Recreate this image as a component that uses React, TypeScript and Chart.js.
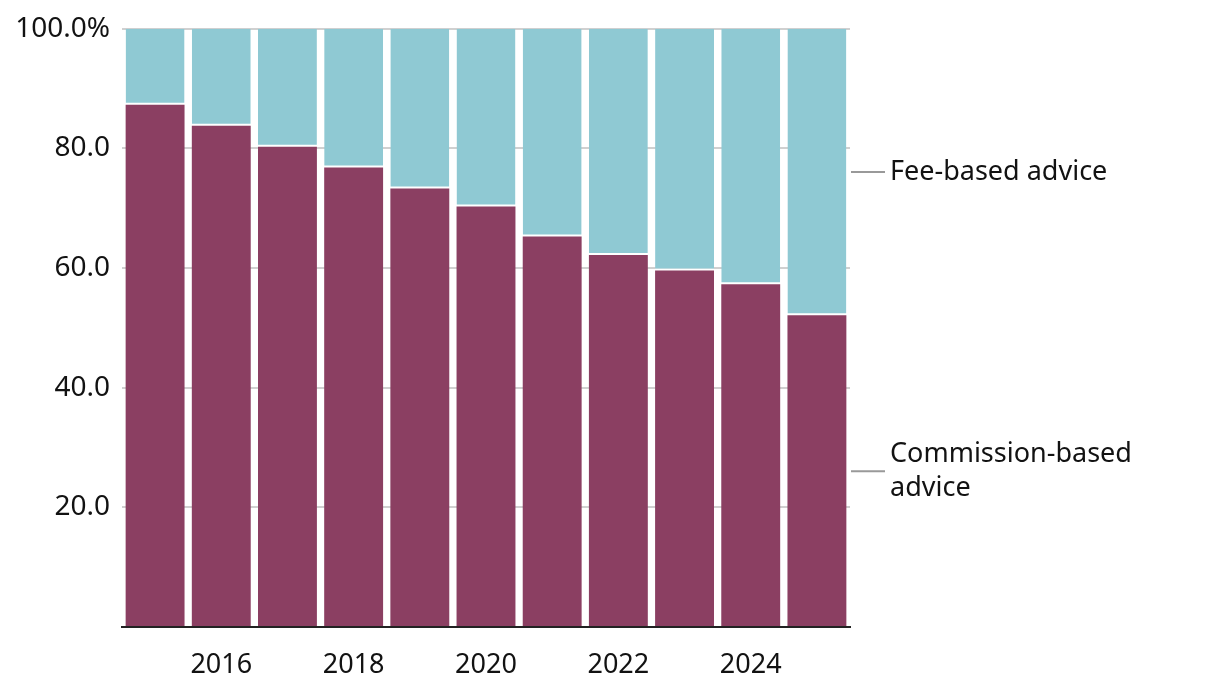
import React, { useEffect, useRef } from "react";
import { Chart, registerables } from "chart.js";

Chart.register(...registerables);

const years = ["2015", "2016", "2017", "2018", "2019", "2020", "2021", "2022", "2023", "2024", "2025"];
const commissionValues = [87.3, 83.8, 80.3, 76.8, 73.3, 70.3, 65.3, 62.2, 59.6, 57.3, 52.1];
const feeValues = [12.7, 16.2, 19.7, 23.2, 26.7, 29.7, 34.7, 37.8, 40.4, 42.7, 47.9];
const commissionLabelLines = ["Commission-based", "advice"];
const feeLabelLines = ["Fee-based advice"];
const yTicks = [0, 20, 40, 60, 80, 100];

const FONT = "'Noto Sans', sans-serif";
const COMMISSION_COLOR = "#8b3f62";
const FEE_COLOR = "#8fc9d3";

const sideLabels = {
  id: "sideLabels",
  afterDraw(chart: any) {
    const { ctx, chartArea } = chart;
    const y = chart.scales.y;
    const last = years.length - 1;
    const c = commissionValues[last];
    const f = feeValues[last];
    const groups = [
      { mid: c / 2, lines: commissionLabelLines },
      { mid: c + f / 2, lines: feeLabelLines },
    ];
    ctx.save();
    groups.forEach((g) => {
      const py = y.getPixelForValue(g.mid);
      ctx.strokeStyle = "#999";
      ctx.lineWidth = 2;
      ctx.beginPath();
      ctx.moveTo(chartArea.right + 1, py);
      ctx.lineTo(chartArea.right + 35, py);
      ctx.stroke();
      ctx.fillStyle = "#121212";
      ctx.font = `27px ${FONT}`;
      ctx.textAlign = "left";
      ctx.textBaseline = "middle";
      const lh = 34;
      const start = py - ((g.lines.length - 1) * lh) / 2;
      g.lines.forEach((t, i) => ctx.fillText(t, chartArea.right + 40, start + i * lh));
    });
    ctx.restore();
  },
};

export default function App() {
  const ref = useRef<HTMLCanvasElement>(null);
  useEffect(() => {
    document.body.style.margin = "0";
    const chart = new Chart(ref.current!, {
      type: "bar",
      data: {
        labels: years,
        datasets: [
          {
            label: "Commission-based advice",
            data: commissionValues,
            backgroundColor: COMMISSION_COLOR,
            borderWidth: 0,
          },
          {
            label: "Fee-based advice",
            data: feeValues,
            backgroundColor: FEE_COLOR,
            borderColor: "#ffffff",
            borderWidth: { top: 0, left: 0, right: 0, bottom: 2 },
            borderSkipped: false,
          },
        ],
      },
      options: {
        animation: false,
        responsive: false,
        maintainAspectRatio: false,
        layout: { padding: { top: 27, right: 370, bottom: 0, left: 0 } },
        datasets: { bar: { barPercentage: 1, categoryPercentage: 0.89 } },
        plugins: { legend: { display: false }, tooltip: { enabled: false } },
        scales: {
          x: {
            stacked: true,
            grid: { display: false },
            border: { display: true, color: "#222", width: 2 },
            ticks: {
              autoSkip: false,
              maxRotation: 0,
              padding: 14,
              color: "#121212",
              font: { family: FONT, size: 27 },
              callback: (v: any, i: number) => (parseInt(years[i]) % 2 === 0 ? years[i] : ""),
            },
            afterFit: (axis: any) => {
              axis.height = 61;
            },
          },
          y: {
            stacked: true,
            min: 0,
            max: 100,
            border: { display: false },
            grid: { color: "#d0d0d0", lineWidth: 2, drawTicks: false },
            afterBuildTicks: (axis: any) => {
              axis.ticks = yTicks.map((v) => ({ value: v }));
            },
            ticks: {
              padding: 12,
              color: "#121212",
              font: { family: FONT, size: 28 },
              callback: (v: any) => (v === 0 ? "" : v === 100 ? "100.0%" : Number(v).toFixed(1)),
            },
            afterFit: (axis: any) => {
              axis.width = 122;
            },
          },
        },
      },
      plugins: [sideLabels],
    });
    return () => chart.destroy();
  }, []);
  return (
    <div style={{ width: 1220, height: 688 }}>
      <canvas ref={ref} width={1220} height={688} style={{ display: "block" }} />
    </div>
  );
}
